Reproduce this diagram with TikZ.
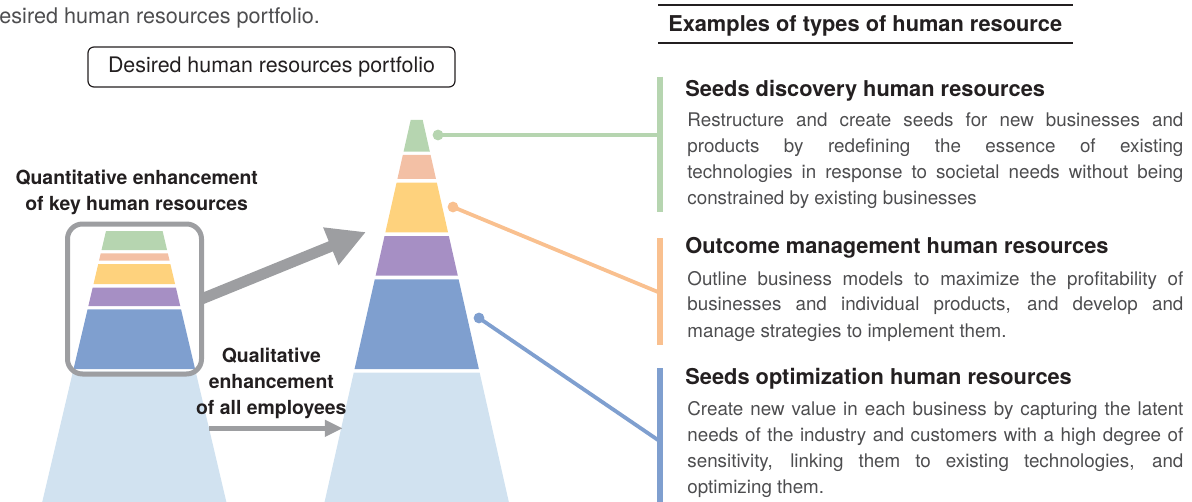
\documentclass[tikz,border=0pt]{standalone}
\usepackage{fontspec}
\setmainfont{TeX Gyre Heros}
\usetikzlibrary{arrows.meta, positioning}
\definecolor{hrGreen}{HTML}{B6D5B0}
\definecolor{hrSalmon}{HTML}{F3C0A5}
\definecolor{hrYellow}{HTML}{FED27D}
\definecolor{hrPurple}{HTML}{A68FC4}
\definecolor{hrBlue}{HTML}{7F9FCF}
\definecolor{hrPale}{HTML}{D1E2F0}
\definecolor{hrOrange}{HTML}{F9C08F}
\definecolor{hrGray}{HTML}{9D9EA1}
\definecolor{hrInk}{HTML}{231F20}
\definecolor{hrText}{HTML}{4D4D4F}
\tolerance=10000
\hbadness=10000
\hyphenpenalty=10000

\begin{document}
\begin{tikzpicture}[
  x=0.5pt, y=-0.5pt,
  every node/.style={inner sep=0pt, text=hrInk},
  headline/.style={anchor=base west, font=\fontsize{10.9}{13}\selectfont\bfseries},
  bodytext/.style={anchor=base west, text width=248pt, align=justify, text=hrText,
    font=\fontsize{9.4}{13}\selectfont},
  sidelabel/.style={align=center, font=\fontsize{9.7}{13}\selectfont\bfseries},
  sidebar/.style={line width=3pt},
  leader/.style={line width=1.9pt},
  fatarrow/.style={hrGray, line width=5.5pt, -{Triangle[length=19pt, width=19pt]}},
  thinarrow/.style={hrGray, line width=2.3pt, -{Triangle[length=8.9pt, width=8pt]}}
]
  \useasboundingbox (0,0) rectangle (1192,502);

  \node[anchor=base west, font=\fontsize{10.8}{13}\selectfont, text=hrText] (lead) at (-1,23.3)
    {esired human resources portfolio.};
  \node[draw=hrInk, line width=0.6pt, rounded corners=3pt, minimum width=183.5pt,
    minimum height=20pt, font=\fontsize{10.7}{13}\selectfont] (portfolio) at (271.5,67)
    {Desired human resources portfolio};

  % current portfolio (left) and desired portfolio (right)
  \foreach \ya/\yb/\clr in {231/250/hrGreen, 253.3/260.7/hrSalmon, 264/284/hrYellow,
      287.7/306/hrPurple, 309.3/369/hrBlue, 371.7/504/hrPale}
    \fill[\clr] ({134.3-28.3-0.2353*(\ya-231)},\ya) -- ({134.3+28.3+0.2353*(\ya-231)},\ya)
      -- ({134.3+28.3+0.2353*(\yb-231)},\yb) -- ({134.3-28.3-0.2353*(\yb-231)},\yb) -- cycle;
  \foreach \ya/\yb/\clr in {120/151.7/hrGreen, 155/179/hrSalmon, 182.7/232.3/hrYellow,
      236/275.7/hrPurple, 279.3/369/hrBlue, 372.7/504/hrPale}
    \fill[\clr] ({416.7-6-0.2255*(\ya-120)},\ya) -- ({416.7+6+0.2255*(\ya-120)},\ya)
      -- ({416.7+6+0.2255*(\yb-120)},\yb) -- ({416.7-6-0.2255*(\yb-120)},\yb) -- cycle;

  \node[sidelabel, anchor=base] (quanttxt) at (136.7,210.7) {Quantitative enhancement\\of key human resources};
  \coordinate (keytip) at (366,232);
  \draw[fatarrow] (134.5,299) ++(67,0) -- (keytip);
  \node[draw=hrGray, line width=2.5pt, rounded corners=7.5pt, minimum width=67pt,
    minimum height=75pt] (keybox) at (134.5,299) {};

  \node[sidelabel, anchor=base] (qualtxt) at (271.3,414.3) {Qualitative\\enhancement\\of all employees};
  \coordinate (allfrom) at (209,428.3);
  \coordinate (allto) at (342.7,428.3);
  \draw[thinarrow] (allfrom) -- (allto);

  % examples column
  \draw[hrInk, line width=0.6pt] (658,5) -- (1073,5) (658,43) -- (1073,43);
  \node[headline] (examples) at (668,31.7) {Examples of types of human resource};

  \draw[sidebar, hrGreen] (660,76.7) -- (660,211.7);
  \draw[sidebar, hrOrange] (660,238) -- (660,345);
  \draw[sidebar, hrBlue] (660,368) -- (660,505);

  \node[headline] (seedhead) at (685,96.5) {Seeds discovery human resources};
  \node[bodytext] (seedbody) at (687,126.7) {Restructure and create seeds for new businesses and\linebreak
    products by redefining the essence of existing\linebreak
    technologies in response to societal needs without being\linebreak
    constrained by existing businesses};

  \node[headline] (outhead) at (685,253.3) {Outcome management human resources};
  \node[bodytext] (outbody) at (687,285) {Outline business models to maximize the profitability of\linebreak
    businesses and individual products, and develop and\linebreak
    manage strategies to implement them.};

  \node[headline] (opthead) at (685,384) {Seeds optimization human resources};
  \node[bodytext] (optbody) at (687,415) {Create new value in each business by capturing the latent\linebreak
    needs of the industry and customers with a high degree of\linebreak
    sensitivity, linking them to existing technologies, and\linebreak
    optimizing them.};

  % leaders from the pyramid layers
  \coordinate (seeddot) at (438,135);
  \coordinate (seedbar) at (658,135);
  \coordinate (outdot) at (453,207);
  \coordinate (outbar) at (658,292);
  \coordinate (optdot) at (479,318);
  \coordinate (optbar) at (658,440);
  \draw[leader, hrGreen] (seeddot) -- (seedbar);
  \draw[leader, hrOrange] (outdot) -- (outbar);
  \draw[leader, hrBlue] (optdot) -- (optbar);
  \fill[hrGreen] (seeddot) circle (2.7pt);
  \fill[hrOrange] (outdot) circle (2.7pt);
  \fill[hrBlue] (optdot) circle (2.7pt);
\end{tikzpicture}
\end{document}
